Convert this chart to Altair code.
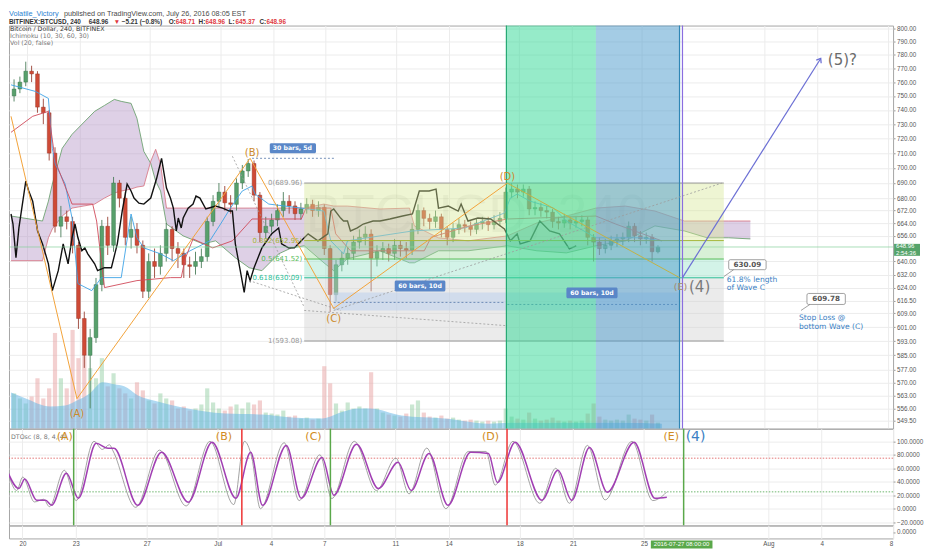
import altair as alt
import pandas as pd

# ======================= DATA =======================
BASE = pd.Timestamp("2016-06-20T00:00:00Z")          # day 0 of every "day" value below
BAR_START = "2016-06-19T06:00:00Z"                   # 8-hour candles

OPEN = [750,755,760,768,766,742,738,710,662,668,
        665,650,606,585,595,626,662,650,690,680,
        655,660,650,622,640,637,645,660,648,645,
        638,637,640,643,665,678,684,677,676,690,
        698,703,682,658,662,666,672,678,675,670,
        673,676,672,674,648,620,638,642,645,652,
        655,657,642,646,648,645,650,648,647,660,
        672,667,665,668,660,655,660,663,662,660,
        664,665,663,665,667,684,686,684,686,673,
        674,672,671,665,664,666,664,665,666,655,
        652,648,650,653,654,655,662,656,654,655,
        646]
HIGH = [762,764,775,772,768,748,740,714,675,672,
        668,652,610,600,630,666,668,694,692,684,
        668,664,653,645,648,650,664,662,652,648,
        643,646,648,668,682,690,688,682,693,702,
        706,705,684,668,670,676,684,682,678,677,
        680,679,678,676,650,641,646,649,656,660,
        662,660,650,652,651,654,653,652,664,676,
        674,670,672,670,662,664,667,666,665,667,
        668,668,669,671,687,690,689,689,688,678,
        677,675,673,668,670,668,668,669,668,657,
        655,654,656,657,658,665,664,659,658,657,
        650]
LOW = [746,752,757,760,738,730,705,658,655,660,
       645,600,578,556,592,622,644,646,674,650,
       648,645,618,618,630,632,640,640,636,630,
       630,632,636,640,662,674,672,670,672,686,
       694,678,652,654,658,662,668,670,666,666,
       670,668,668,644,609.78,616,634,638,641,648,
       650,622,637,641,640,641,643,642,644,657,
       662,660,661,655,650,652,657,658,656,657,
       660,659,660,662,664,680,680,681,669,669,
       668,667,661,660,661,660,661,662,650,640,
       644,645,647,649,650,652,652,650,651,640,
       645]
CLOSE = [755,760,768,766,742,738,710,662,668,665,
         650,606,585,595,626,662,650,690,680,655,
         660,650,622,640,637,645,660,648,645,638,
         637,640,643,665,678,684,677,676,690,698,
         703,682,658,662,666,672,678,675,670,673,
         676,672,674,648,620,638,642,645,652,655,
         657,642,646,648,645,650,648,647,660,672,
         667,665,668,660,655,660,663,662,660,664,
         665,663,665,667,684,686,684,686,673,674,
         672,671,665,664,666,664,665,666,655,652,
         648,650,653,654,655,662,656,654,655,646,
         648.96]
VOLUME = [3.5,3.0,2.5,3.2,5.0,3.0,4.0,9.5,5.0,4.0,
          9.8,7.0,7.2,6.0,5.0,7.0,4.2,5.5,4.0,3.5,
          3.0,4.6,3.8,2.8,2.5,3.5,3.0,2.8,2.0,2.2,
          1.8,2.0,2.4,4.0,2.6,2.0,1.8,2.2,2.4,2.0,
          2.6,2.4,2.8,1.6,1.5,1.4,1.8,1.2,1.3,1.0,
          1.1,0.9,1.0,6.2,4.5,2.5,1.8,2.6,2.0,2.2,
          2.0,5.6,2.0,1.6,1.4,1.3,1.2,1.5,2.4,2.8,
          1.6,1.2,1.1,1.3,1.0,1.1,0.9,0.8,0.9,0.8,
          0.7,0.8,0.7,0.8,2.0,1.2,1.0,0.9,1.6,1.0,
          0.8,0.9,1.1,0.8,0.7,0.8,0.7,0.8,1.5,2.5,
          1.2,0.9,0.8,0.9,0.8,1.4,1.0,0.9,0.8,1.4,
          0.6]   # thousand BTC
VOL_MA = [(-0.922,3.6),(-0.081,3.0),(1.319,2.2),(2.160,2.3),(2.832,2.8),(3.560,3.5),
          (4.288,4.6),(4.961,4.4),(5.521,4.2),(6.305,3.3),(7.202,2.8),(8.826,2.1),
          (11.291,1.5),(13.364,1.4),(15.045,1.1),(16.781,1.0),(17.846,1.6),(18.798,2.0),
          (19.527,2.0),(21.319,1.3),(23.756,1.0),(26.277,0.5),(27.902,0.6),(31.263,0.6),
          (33.784,0.6),(36.137,0.5)]

TENKAN = [(-0.922,758.0),(0.479,753.2),(1.207,748.2),(1.431,713.3),(1.600,702.5),(2.160,689.3),
          (2.552,667.2),(2.888,626.6),(3.672,622.4),(4.232,630.2),(5.353,630.2),(5.913,669.8),
          (6.249,654.7),(6.641,648.4),(7.594,644.7),(8.322,640.5),(9.275,646.6),(10.395,652.8),
          (11.011,663.4),(11.571,673.6),(12.244,684.7),(12.804,688.0),(12.972,682.7),(13.756,676.2),
          (15.605,673.6),(16.893,671.7),(17.286,652.8),(18.014,644.7),(18.238,652.8),(21.936,659.0),
          (24.933,660.9),(27.174,670.4),(27.510,680.1),(27.902,682.7),(28.630,678.1),(29.975,673.6),
          (30.703,665.3),(32.384,654.7),(35.017,654.7),(36.137,652.8)]
KIJUN = [(-0.922,724.3),(0.311,735.5),(1.207,739.0),(1.600,704.5),(2.552,676.2),(3.728,676.2),
         (3.952,665.3),(4.400,624.2),(6.249,628.4),(8.154,630.2),(8.770,630.2),(8.994,641.7),
         (9.443,654.0),(10.563,648.4),(11.683,652.8),(12.804,666.6),(15.605,666.6),(15.885,673.6),
         (17.286,673.6),(17.566,657.2),(18.406,646.6),(22.608,646.6),(23.000,655.0),(25.101,662.0),
         (27.342,666.6),(32.384,668.5),(33.504,663.4),(36.137,652.8)]
CHIKOU = [(-0.922,669.8),(-0.810,663.4),(-0.641,642.3),(-0.473,660.9),(-0.081,691.2),(0.087,684.7),
          (0.311,678.1),(0.591,659.0),(0.871,650.9),(1.207,638.6),(1.431,622.4),(1.768,634.4),
          (2.048,650.9),(2.328,638.6),(2.552,654.7),(2.720,663.4),(2.888,654.7),(3.112,646.6),
          (3.280,648.4),(3.448,644.7),(3.840,638.6),(4.008,634.4),(4.400,636.2),(4.793,636.2),
          (5.129,650.9),(5.409,671.7),(5.689,689.3),(5.913,684.7),(6.081,680.1),(6.361,676.8),
          (6.641,676.2),(7.034,680.1),(7.370,693.1),(7.650,706.5),(7.930,686.6),(8.154,680.1),
          (8.322,673.6),(8.490,659.0),(8.602,667.2),(8.770,660.9),(8.882,667.2),(9.162,673.6),
          (9.443,676.2),(9.611,681.4),(9.835,680.1),(10.171,673.0),(10.731,674.9),(11.123,673.6),
          (11.515,671.7),(11.683,671.7),(11.851,650.9),(12.132,634.4),(12.356,621.3),(12.524,634.4),
          (12.692,628.4),(12.916,636.2),(13.364,648.4),(13.924,657.2),(14.317,660.9),(14.485,650.9),
          (14.877,648.4),(15.213,648.4),(15.605,652.8),(15.997,657.2),(16.557,652.8),(17.118,657.2),
          (17.286,671.7),(17.454,673.0),(17.846,667.2),(18.014,665.3),(18.238,665.3),(18.406,659.0),
          (18.798,660.9),(19.134,663.4),(19.695,665.3),(20.087,665.3),(20.647,666.6),(21.375,668.5),
          (21.936,669.8),(22.328,684.7),(22.888,684.7),(23.280,686.0),(23.420,673.6),(23.980,674.9),
          (24.541,671.7),(24.709,676.2),(25.101,665.3),(25.661,667.2),(26.389,666.6),(27.174,660.3),
          (27.510,652.8),(27.902,657.2),(28.070,650.9),(28.630,652.8),(29.190,665.3),(29.751,659.0),
          (30.311,657.2),(30.871,647.8),(31.263,649.7)]
# (day, senkou span A, senkou span B)
CLOUD = [(-0.922,668.5,640.5),(0.871,665.3,640.5),(1.207,678.1,654.7),(1.431,689.3,660.3),
         (1.992,713.3,668.5),(2.552,722.9,673.6),(3.840,739.0,676.2),(4.400,743.2,680.1),
         (4.961,747.5,683.4),(5.353,746.1,684.7),(5.913,744.7,686.0),(6.249,734.1,687.3),
         (6.641,711.2,688.0),(7.034,703.1,704.5),(7.314,691.2,712.6),(7.594,684.7,702.5),
         (7.930,663.4,673.6),(8.882,655.9,673.6),(10.003,650.9,673.6),(10.731,652.8,673.6),
         (11.851,642.3,673.6),(12.636,636.2,673.6),(13.364,634.4,673.6),(14.317,644.7,673.6),
         (15.045,648.4,673.6),(15.773,649.7,673.6),(16.893,639.2,676.2),(17.454,634.4,674.9),
         (18.238,641.7,674.9),(20.087,646.6,673.0),(21.768,639.2,673.6),(22.048,639.2,662.2),
         (23.420,646.6,654.7),(25.101,646.6,652.8),(27.342,649.7,655.9),(29.022,646.6,664.1),
         (30.703,645.3,668.5),(32.384,649.7,673.6),(34.064,652.8,674.9),(35.745,662.2,671.7),
         (37.425,659.0,665.3),(38.714,654.7,665.3),(39.946,654.7,665.3),(41.179,654.0,665.3)]

# Fibonacci retracement
FIB_SPAN = (15.773, 39.666)
FIB_PRICE = [689.96, 652.95, 641.52, 630.09, 593.08]
FIB_LABEL = ["0(689.96)", "0.382(652.95)", "0.5(641.52)", "0.618(630.09)", "1(593.08)"]
FIB_LABEL_DAY = 15.661

# time zones highlighted
BANDS = [(27.286, 32.384), (32.384, 37.145)]
ZONE_LINE_DAY = [27.286, 37.145, 37.313]

# Elliott wave path  (start, A, B, C, D, E) and projection to (5)
WAVE = [(-0.922,735.5),(2.832,561.2),(12.692,706.5),(17.454,611.9),(27.342,689.9),(37.145,630.2)]
PROJECTION = [(37.313,630.2),(45.185,777.4)]
TRENDS = [[(11.683,707.9),(15.773,612.6)],
          [(12.636,628.4),(17.846,610.7)],
          [(17.454,610.7),(39.554,689.9)],
          [(15.773,610.7),(27.342,601.8)]]
# bar-count measurements
MEASURE_ZONES = [(17.454, 27.342), (27.342, 37.145)]
MEASURE_PRICE = (621.3, 610.7)
MEASURE_LINES = [[(17.454,615.4),(27.230,615.4)], [(27.342,614.2),(37.089,614.2)], [(12.804,706.5),(17.566,706.5)]]
TAG_TEXT = ["30 bars, 5d", "60 bars, 10d", "60 bars, 10d"]
TAG_BOX = [(13.812,16.445,716.7,709.9), (20.927,23.812,628.4,621.9), (30.703,33.616,624.2,617.8)]
TAG_AT = [(15.101,713.3), (22.37,625.1), (32.16,620.9)]
# callouts
CALLOUT_TEXT = ["630.09", "609.78"]
CALLOUT_BOX = [(39.946,42.075,641.1,635.0), (44.402,46.586,620.7,614.2)]
CALLOUT_AT = [(41.011,638.0), (45.494,617.4)]
CALLOUT_POINTER = [[(39.666,630.8),(40.227,635.0)], [(44.569,614.2),(44.064,610.7)]]
NOTE_TEXT = ["61.8% length", "of Wave C", "Stop Loss @", "bottom Wave (C)"]
NOTE_AT = [(39.834,628.9), (39.834,624.0), (43.952,606.4), (43.952,601.0)]
# wave labels on the price pane
WAVE_LABEL = ["(A)", "(B)", "(C)", "(D)", "(E)", "(4)", "(5)?"]
WAVE_LABEL_AT = [(2.832,552.8),(12.804,709.9),(17.454,605.9),(27.342,693.8),(37.20,624.8),(38.29,624.8),(46.42,775.9)]
WATERMARK = ("BTCUSD, 240", 25.58, 668.5)
LAST_PRICE = 648.96
COUNTDOWN = "2:54:36"

# DTOsc (8, 8, 4, 4)
OSC_K = [(-0.933,61.5),(-0.199,30),(0.137,44),(0.804,12.6),(1.308,12.6),(1.644,5),(2.479,52.6),
         (3.151,15.6),(4.154,97),(4.821,89.6),(5.157,89.6),(6.496,5),(7.835,83.7),(9.342,9.6),
         (10.681,98.5),(12.020,15.6),(12.854,83.7),(13.521,5),(14.860,94),(15.700,15.6),(16.871,76),
         (17.538,20),(18.810,95.5),(20.048,30),(21.151,69),(21.891,27),(22.894,82),(23.964,5),
         (25.235,83.7),(26.238,82),(26.743,39),(27.745,98.5),(29.252,12.6),(30.154,57),(30.927,12.6),
         (31.930,91),(32.933,24.4),(34.440,98.5),(35.611,15.6),(36.283,17)]
OSC_D = [(-0.933,66),(-0.32,27),(0.02,47),(0.68,10),(1.2,14),(1.52,3),(2.36,57),(3.03,12),(4.03,100),
         (4.5,88),(4.9,95),(5.1,86),(6.38,2),(7.72,87),(9.22,4),(10.56,100),(11.9,6),(12.5,100),
         (12.9,78),(13.4,0),(14.74,98),(15.58,12),(16.75,80),(17.42,15),(18.69,100),(19.93,27),
         (21.03,75),(21.77,22),(22.77,90),(23.84,0),(25.11,85),(26.1,85),(26.62,35),(27.62,100),
         (29.13,8),(30.03,60),(30.8,8),(31.81,94),(32.81,13),(34.32,100),(35.49,12),(36.0,18),(36.283,25)]
OSC_LEVELS = [75, 25]
OSC_MARK_DAY = [2.888, 12.356, 17.342, 27.286, 37.23]
OSC_MARK_KIND = ["low", "high", "low", "high", "low"]
OSC_LABEL = ["(A)", "(B)", "(C)", "(D)", "(E)", "(4)"]
OSC_LABEL_AT = [(2.384,107),(11.347,107),(16.389,107),(26.361,107),(36.53,107),(37.90,107)]
CURSOR_DAY = 37.313
CURSOR_TEXT = "2016-07-27 08:00:00"

X_TICK_DATES = ["2016-06-20","2016-06-23","2016-06-27","2016-07-01","2016-07-04","2016-07-07",
                "2016-07-11","2016-07-14","2016-07-18","2016-07-21","2016-07-25","2016-08-01",
                "2016-08-04","2016-08-08"]
PRICE_TICKS = [800,790,780,770,760,750,740,730,720,710,700,690,680,672,664,656,640,632,624,
               616.5,609,601,593,585,577,570,563,556,549.5]
OSC_TICKS = [100, 80, 60, 40, 20, 0, -20]

HEADER_TEXT = [["Volatile_Victory", "published on TradingView.com, July 26, 2016 08:05 EST"],
               ["BITFINEX:BTCUSD, 240", "648.96", "▼", "−5.21 (−0.8%)", "O:", "648.71", "H:", "648.96",
                "L:", "645.37", "C:", "648.96"]]
PANE_LEGEND = ["Bitcoin / Dollar, 240, BITFINEX", "Ichimoku (10, 30, 60, 30)", "Vol (20, false)"]

# ======================= LAYOUT / STYLE =======================
W, H_HEAD, H_MAIN, H_OSC, H_STRIP = 886, 16, 404, 97, 13
FONT = "DejaVu Sans"
AXFONT = "Liberation Sans"
GRID = "#ececec"
HEADER_X = [[0, 55], [0, 80, 105, 113, 160, 167, 190, 197, 220, 227, 251, 258]]
HEADER_SIZE = [7.3, 6.4]
HEADER_STYLE = [["user", "plain"], ["bold", "bold", "red", "bold", "bold", "red", "bold", "red",
                                    "bold", "red", "bold", "red"]]
HEADER_COLORS = {"user": "#2d7fd0", "plain": "#4a4a4a", "bold": "#333333", "red": "#e0393e"}
WAVE_LABEL_STYLE = {"(A)": ("#cc8a2a", 10), "(B)": ("#cc8a2a", 10), "(C)": ("#cc8a2a", 10),
                    "(D)": ("#cc8a2a", 10), "(E)": ("#a3896b", 9.5), "(4)": ("#7a7a7a", 15),
                    "(5)?": ("#6b6b6b", 15)}
OSC_LABEL_STYLE = {"(A)": ("#d18b22", 11), "(B)": ("#d18b22", 11), "(C)": ("#d18b22", 11),
                   "(D)": ("#d18b22", 11), "(E)": ("#d18b22", 11), "(4)": ("#3b7fc4", 14)}
FIB_COLORS = ["#9a9a9a", "#a6b83a", "#57bd57", "#2dbf98", "#9a9a9a"]
FIB_FILLS = ["#d6e696", "#a3dc9d", "#96e2c9", "#cfcfcf"]


def iso(days):
    return [(BASE + pd.Timedelta(days=float(d))).strftime("%Y-%m-%dT%H:%M:%SZ") for d in days]


def ms(s):
    return int(pd.Timestamp(s, tz="UTC").value // 10**6)


def pts(pairs, names=("t", "p")):
    df = pd.DataFrame(pairs, columns=["d", names[1]])
    df[names[0]] = iso(df["d"])
    return df


XS = alt.Scale(type="utc", domain=[ms("2016-06-19T05:55:00"), ms("2016-08-08T00:30:00")])
X_TICKS = [ms(d) for d in X_TICK_DATES]
YS = alt.Scale(type="log", domain=[545.3, 802.3], nice=False)
YAX = alt.Axis(orient="right", values=PRICE_TICKS, format=".2f", grid=True, gridColor=GRID,
               tickSize=2, labelPadding=1.5, domain=False, title=None)
OS = alt.Scale(domain=[-24.9, 118.8], nice=False, zero=False)
OAX = alt.Axis(orient="right", values=OSC_TICKS, format=".4f", grid=True, gridColor=GRID,
               tickSize=2, labelPadding=1.5, domain=False, title=None)
VS = alt.Scale(domain=[0, 40], nice=False)


def X(field, labels=False):
    if labels:
        ax = alt.Axis(values=X_TICKS, grid=True, gridColor=GRID, ticks=False, domain=False,
                      labelPadding=2, title=None,
                      labelExpr="utcdate(datum.value) == 1 ? utcFormat(datum.value, '%b') : utcFormat(datum.value, '%-d')")
    else:
        ax = alt.Axis(values=X_TICKS, grid=True, gridColor=GRID, ticks=False, domain=False,
                      labels=False, title=None)
    return alt.X(f"{field}:T", scale=XS, axis=ax)


def YP(field):
    return alt.Y(f"{field}:Q", scale=YS, axis=YAX)


def YO(field):
    return alt.Y(f"{field}:Q", scale=OS, axis=OAX)


def text_layer(df, yfun, align="center", weight="normal", font=FONT):
    return alt.Chart(df).mark_text(align=align, baseline="middle", font=font, fontWeight=weight).encode(
        x=X("t"), y=yfun("p"), text="text:N",
        color=alt.Color("color:N", scale=None), size=alt.Size("size:Q", scale=None))


def segments(list_of_pairs):
    rows = []
    for k, seg in enumerate(list_of_pairs):
        for d, p in seg:
            rows.append({"seg": k, "d": d, "p": p})
    df = pd.DataFrame(rows)
    df["t"] = iso(df["d"])
    return df


# ======================= HEADER =======================
hrows = []
for line, (texts, xs, styles) in enumerate(zip(HEADER_TEXT, HEADER_X, HEADER_STYLE)):
    for txt, x, st in zip(texts, xs, styles):
        hrows.append({"x": x, "y": 4 + 8 * line, "text": txt, "color": HEADER_COLORS[st],
                      "size": HEADER_SIZE[line], "w": "bold" if line == 1 else "normal"})
hdf = pd.DataFrame(hrows)
head_layers = []
for wgt in ["normal", "bold"]:
    head_layers.append(
        alt.Chart(hdf[hdf["w"] == wgt]).mark_text(align="left", baseline="middle", font=AXFONT,
                                                  fontWeight=wgt).encode(
            x=alt.X("x:Q", scale=None, axis=None), y=alt.Y("y:Q", scale=None, axis=None),
            text="text:N", color=alt.Color("color:N", scale=None), size=alt.Size("size:Q", scale=None)))
header = alt.layer(*head_layers).properties(width=W, height=H_HEAD,
                                            view=alt.ViewBackground(stroke="transparent"))

# ======================= PRICE PANE =======================
bars = pd.DataFrame({"t": pd.date_range(BAR_START, periods=len(CLOSE), freq="8h").strftime("%Y-%m-%dT%H:%M:%SZ"),
                     "o": OPEN, "h": HIGH, "l": LOW, "c": CLOSE, "v": VOLUME})
up = bars["c"] >= bars["o"]
bars["body"] = ["#58a06c" if u else "#cf4a36" for u in up]
bars["edge"] = ["#2f6a43" if u else "#8c2e20" for u in up]
bars["wick"] = ["#4b7d5a" if u else "#9a4236" for u in up]
bars["vcol"] = ["#9fd3ad" if u else "#e9a9a9" for u in up]

vol_bars = alt.Chart(bars).mark_bar(size=4.2, opacity=0.55).encode(
    x=X("t"), y=alt.Y("v:Q", scale=VS, axis=None), color=alt.Color("vcol:N", scale=None))
vma = pts(VOL_MA, ("t", "v"))
vol_ma = alt.Chart(vma).mark_area(color="#5fb3e6", opacity=0.5, interpolate="monotone", clip=True).encode(
    x=X("t"), y=alt.Y("v:Q", scale=VS, axis=None))
volume_layer = alt.layer(vol_bars, vol_ma)

wm = pd.DataFrame({"t": iso([WATERMARK[1]]), "p": [WATERMARK[2]], "text": [WATERMARK[0]]})
watermark = alt.Chart(wm).mark_text(font="Liberation Sans", fontSize=54, color="#000000", opacity=0.06,
                                    align="center", baseline="middle").encode(x=X("t"), y=YP("p"), text="text:N")

cloud = pd.DataFrame(CLOUD, columns=["d", "a", "b"])
cloud["t"] = iso(cloud["d"])
cloud_area = alt.Chart(cloud).mark_area(color="#b596c8", opacity=0.45, clip=True).encode(
    x=X("t"), y=YP("a"), y2=alt.Y2("b"))
span_a = alt.Chart(cloud).mark_line(color="#5f9b63", strokeWidth=0.8, clip=True).encode(x=X("t"), y=YP("a"))
span_b = alt.Chart(cloud).mark_line(color="#d6707f", strokeWidth=0.8, clip=True).encode(x=X("t"), y=YP("b"))

wicks = alt.Chart(bars).mark_rule(strokeWidth=0.9).encode(
    x=X("t"), y=YP("l"), y2=alt.Y2("h"), color=alt.Color("wick:N", scale=None))
bodies = alt.Chart(bars).mark_bar(size=3.8, strokeWidth=0.4).encode(
    x=X("t"), y=YP("o"), y2=alt.Y2("c"), color=alt.Color("body:N", scale=None),
    stroke=alt.Stroke("edge:N", scale=None))

tenkan = alt.Chart(pts(TENKAN)).mark_line(color="#3fa3e6", strokeWidth=0.9, clip=True).encode(x=X("t"), y=YP("p"))
kijun = alt.Chart(pts(KIJUN)).mark_line(color="#d04a5a", strokeWidth=0.9, clip=True).encode(x=X("t"), y=YP("p"))
chikou = alt.Chart(pts(CHIKOU)).mark_line(color="#111111", strokeWidth=1.4, clip=True).encode(x=X("t"), y=YP("p"))

last_rule = alt.Chart(pd.DataFrame({"p": [LAST_PRICE]})).mark_rule(color="#86cf9a", strokeWidth=0.7).encode(y=YP("p"))

fib_fill = pd.DataFrame({"t0": iso([FIB_SPAN[0]] * 4), "t1": iso([FIB_SPAN[1]] * 4),
                         "p0": FIB_PRICE[:-1], "p1": FIB_PRICE[1:], "color": FIB_FILLS})
fib_rect = alt.Chart(fib_fill).mark_rect(opacity=0.42).encode(
    x=X("t0"), x2=alt.X2("t1"), y=YP("p0"), y2=alt.Y2("p1"), color=alt.Color("color:N", scale=None))
fib_lv = pd.DataFrame({"t0": iso([FIB_SPAN[0]] * 5), "t1": iso([FIB_SPAN[1]] * 5), "p": FIB_PRICE,
                       "color": FIB_COLORS})
fib_lines = alt.Chart(fib_lv).mark_rule(strokeWidth=1).encode(
    x=X("t0"), x2=alt.X2("t1"), y=YP("p"), color=alt.Color("color:N", scale=None))
fib_lab = pd.DataFrame({"t": iso([FIB_LABEL_DAY] * 5), "p": FIB_PRICE, "text": FIB_LABEL,
                        "color": FIB_COLORS, "size": [7] * 5})
fib_labels = text_layer(fib_lab, YP, align="right")

mz = pd.DataFrame({"t0": iso([z[0] for z in MEASURE_ZONES]), "t1": iso([z[1] for z in MEASURE_ZONES]),
                   "p0": [MEASURE_PRICE[0]] * 2, "p1": [MEASURE_PRICE[1]] * 2})
meas_rect = alt.Chart(mz).mark_rect(color="#b7cdee", opacity=0.5).encode(
    x=X("t0"), x2=alt.X2("t1"), y=YP("p0"), y2=alt.Y2("p1"))
meas_lines = alt.Chart(segments(MEASURE_LINES)).mark_line(color="#5577aa", strokeWidth=0.8,
                                                          strokeDash=[2, 2]).encode(
    x=X("t"), y=YP("p"), detail="seg:N")

bdf = pd.DataFrame({"t0": iso([b[0] for b in BANDS]), "t1": iso([b[1] for b in BANDS]),
                    "color": ["#2ed894", "#4a9acb"], "op": [0.5, 0.5]})
bands = alt.Chart(bdf).mark_rect().encode(
    x=X("t0"), x2=alt.X2("t1"), y=alt.value(0), y2=alt.value(H_MAIN),
    color=alt.Color("color:N", scale=None), opacity=alt.Opacity("op:Q", scale=None))
zl = pd.DataFrame({"t": iso(ZONE_LINE_DAY), "color": ["#27a874", "#2f86b5", "#8a6ee0"]})
zone_lines = alt.Chart(zl).mark_rule(strokeWidth=1.2).encode(x=X("t"), color=alt.Color("color:N", scale=None))

trend = alt.Chart(segments(TRENDS)).mark_line(color="#9c9c9c", strokeWidth=0.8, strokeDash=[2, 2]).encode(
    x=X("t"), y=YP("p"), detail="seg:N")
wsegs = [[WAVE[i], WAVE[i + 1]] for i in range(len(WAVE) - 1)]
wdf = segments(wsegs)
wdf["color"] = ["#c2b245" if s == len(wsegs) - 1 else "#f2a33a" for s in wdf["seg"]]
waves = alt.Chart(wdf).mark_line(strokeWidth=1, clip=True).encode(
    x=X("t"), y=YP("p"), detail="seg:N", color=alt.Color("color:N", scale=None))
proj = alt.Chart(pts(PROJECTION)).mark_line(color="#6b6fd4", strokeWidth=1.2).encode(x=X("t"), y=YP("p"))
head_pt = alt.Chart(pts(PROJECTION[1:])).mark_point(shape="M -0.7 0.9 L 0 0 L 0.7 0.9", filled=False,
                                                    size=70, angle=32.5, color="#6b6fd4",
                                                    strokeWidth=1.3, opacity=1).encode(x=X("t"), y=YP("p"))

tb = pd.DataFrame({"t0": iso([b[0] for b in TAG_BOX]), "t1": iso([b[1] for b in TAG_BOX]),
                   "p0": [b[2] for b in TAG_BOX], "p1": [b[3] for b in TAG_BOX]})
tag_rect = alt.Chart(tb).mark_rect(color="#5a87c8", cornerRadius=1.5).encode(
    x=X("t0"), x2=alt.X2("t1"), y=YP("p0"), y2=alt.Y2("p1"))
tt = pd.DataFrame({"t": iso([a[0] for a in TAG_AT]), "p": [a[1] for a in TAG_AT], "text": TAG_TEXT,
                   "color": ["#ffffff"] * 3, "size": [6.2] * 3})
tag_text = text_layer(tt, YP, weight="bold")

cb = pd.DataFrame({"t0": iso([b[0] for b in CALLOUT_BOX]), "t1": iso([b[1] for b in CALLOUT_BOX]),
                   "p0": [b[2] for b in CALLOUT_BOX], "p1": [b[3] for b in CALLOUT_BOX]})
call_rect = alt.Chart(cb).mark_rect(fill="#ffffff", stroke="#8a8a8a", strokeWidth=0.8, cornerRadius=1.5).encode(
    x=X("t0"), x2=alt.X2("t1"), y=YP("p0"), y2=alt.Y2("p1"))
call_ptr = alt.Chart(segments(CALLOUT_POINTER)).mark_line(color="#8a8a8a", strokeWidth=0.8).encode(
    x=X("t"), y=YP("p"), detail="seg:N")
ct = pd.DataFrame({"t": iso([a[0] for a in CALLOUT_AT]), "p": [a[1] for a in CALLOUT_AT],
                   "text": CALLOUT_TEXT, "color": ["#555555"] * 2, "size": [7.2] * 2})
call_text = text_layer(ct, YP, weight="bold")
nt = pd.DataFrame({"t": iso([a[0] for a in NOTE_AT]), "p": [a[1] for a in NOTE_AT], "text": NOTE_TEXT,
                   "color": ["#3b7fc4"] * 4, "size": [7.6] * 4})
note_text = text_layer(nt, YP, align="left")

wl = pd.DataFrame({"t": iso([a[0] for a in WAVE_LABEL_AT]), "p": [a[1] for a in WAVE_LABEL_AT],
                   "text": WAVE_LABEL, "color": [WAVE_LABEL_STYLE[k][0] for k in WAVE_LABEL],
                   "size": [WAVE_LABEL_STYLE[k][1] for k in WAVE_LABEL]})
wave_text = text_layer(wl, YP)

legend_layers = []
for k, (txt, col) in enumerate(zip(PANE_LEGEND, ["#333333", "#777777", "#777777"])):
    legend_layers.append(
        alt.Chart(pd.DataFrame({"text": [txt]})).mark_text(align="left", baseline="middle", font=FONT,
                                                           fontSize=6.3, color=col).encode(
            x=alt.value(1), y=alt.value(3 + 7 * k), text="text:N"))

tag_df = pd.DataFrame({"p0": [650.9], "p1": [643.5]})
price_tag = alt.Chart(tag_df).mark_rect(color="#55a36a").encode(
    x=alt.value(W + 1), x2=alt.value(W + 27), y=YP("p0"), y2=alt.Y2("p1"))
ptxt = pd.DataFrame({"p": [649.4, 645.1], "text": [f"{LAST_PRICE:.2f}", COUNTDOWN]})
price_tag_text = alt.Chart(ptxt).mark_text(align="left", baseline="middle", font=AXFONT, fontSize=6,
                                           color="#ffffff").encode(
    x=alt.value(W + 3), y=YP("p"), text="text:N")

price_layer = alt.layer(
    watermark, cloud_area, span_a, span_b, wicks, bodies, tenkan, kijun, chikou, last_rule,
    fib_rect, fib_lines, fib_labels, meas_rect, meas_lines, bands, zone_lines,
    trend, waves, proj, head_pt, tag_rect, tag_text, call_rect, call_ptr, call_text, note_text,
    wave_text, *legend_layers, price_tag, price_tag_text)

main = alt.layer(volume_layer, price_layer).resolve_scale(y="independent").properties(width=W, height=H_MAIN)

# ======================= OSCILLATOR PANE =======================
lv = pd.DataFrame({"p": OSC_LEVELS, "color": ["#e06666", "#5fae5f"]})
osc_levels = alt.Chart(lv).mark_rule(strokeWidth=0.9, strokeDash=[1.5, 1.5]).encode(
    y=YO("p"), color=alt.Color("color:N", scale=None))
osc_d = alt.Chart(pts(OSC_D)).mark_line(color="#8d8d8d", strokeWidth=0.8, interpolate="monotone",
                                        clip=True).encode(x=X("t"), y=YO("p"))
osc_k = alt.Chart(pts(OSC_K)).mark_line(color="#a13fb3", strokeWidth=1.5, interpolate="monotone",
                                        clip=True).encode(x=X("t"), y=YO("p"))
mk = pd.DataFrame({"t": iso(OSC_MARK_DAY),
                   "color": ["#5aa84a" if k == "low" else "#ee3333" for k in OSC_MARK_KIND]})
osc_marks = alt.Chart(mk).mark_rule(strokeWidth=1.5).encode(x=X("t"), color=alt.Color("color:N", scale=None))
ol = pd.DataFrame({"t": iso([a[0] for a in OSC_LABEL_AT]), "p": [a[1] for a in OSC_LABEL_AT],
                   "text": OSC_LABEL, "color": [OSC_LABEL_STYLE[k][0] for k in OSC_LABEL],
                   "size": [OSC_LABEL_STYLE[k][1] for k in OSC_LABEL]})
osc_text = text_layer(ol, YO)
osc_title = alt.Chart(pd.DataFrame({"text": ["DTOsc (8, 8, 4, 4)"]})).mark_text(
    align="left", baseline="middle", font=FONT, fontSize=6.3, color="#777777").encode(
    x=alt.value(2), y=alt.value(8), text="text:N")
osc = alt.layer(osc_levels, osc_d, osc_k, osc_marks, osc_title, osc_text).properties(width=W, height=H_OSC)

# ======================= EMPTY PANE + TIME AXIS =======================
sdf = pd.DataFrame({"t": iso([CURSOR_DAY]), "v": [0]})
strip_pt = alt.Chart(sdf).mark_point(opacity=0).encode(
    x=X("t", labels=True),
    y=alt.Y("v:Q", scale=alt.Scale(domain=[-1, 1]), axis=alt.Axis(orient="right", values=[0], format=".4f",
                                                                 grid=False, tickSize=2, labelPadding=1.5,
                                                                 domain=False, title=None)))
cursor_box = pd.DataFrame({"t0": iso([CURSOR_DAY - 1.93]), "t1": iso([CURSOR_DAY + 1.54])})
cur_rect = alt.Chart(cursor_box).mark_rect(color="#5aa84a").encode(
    x=X("t0", labels=True), x2=alt.X2("t1"), y=alt.value(H_STRIP + 2), y2=alt.value(H_STRIP + 10))
cur_text = alt.Chart(pd.DataFrame({"t": iso([CURSOR_DAY - 0.2]), "text": [CURSOR_TEXT]})).mark_text(
    font=AXFONT, fontSize=6, color="#ffffff", align="center", baseline="middle").encode(
    x=X("t", labels=True), y=alt.value(H_STRIP + 6), text="text:N")
strip = alt.layer(strip_pt, cur_rect, cur_text).properties(width=W, height=H_STRIP)

chart = alt.vconcat(header, main, osc, strip, spacing=0, bounds="flush").properties(padding=0).configure_view(
    stroke="#a6a6a6", strokeWidth=1).configure_axis(
    labelFont=AXFONT, labelFontSize=6.3, labelColor="#555555", tickColor="#9a9a9a")

chart.save("out.html", embed_options={"renderer": "svg", "actions": False})
